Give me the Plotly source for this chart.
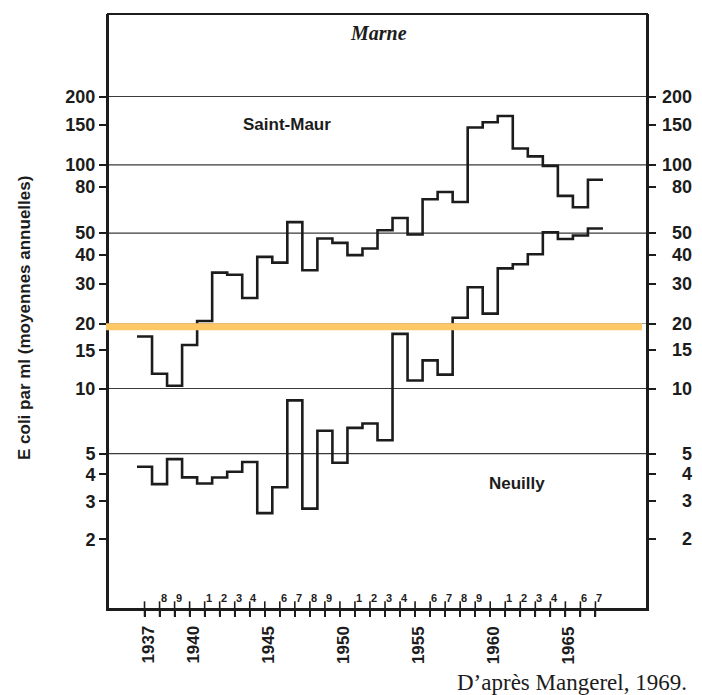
import math
import plotly.graph_objects as go

# ---------------- data ----------------
years = list(range(1937, 1968))
saint_maur = [17.4, 11.7, 10.3, 15.9, 20.5, 33.5, 32.8, 25.9, 39.3, 37.1,
              55.9, 34.3, 47.4, 45.3, 40.0, 42.8, 51.5, 58.3, 49.3, 70.5,
              75.9, 68.6, 146, 154, 164, 118, 109, 99, 73, 65, 86]
neuilly = [4.34, 3.61, 4.71, 3.88, 3.63, 3.87, 4.12, 4.57, 2.65, 3.49,
           8.81, 2.78, 6.38, 4.53, 6.57, 6.89, 5.76, 17.9, 10.9, 13.5,
           11.6, 21.2, 28.9, 22.1, 35.0, 36.5, 40.4, 50.5, 47.1, 48.8, 52.4]

upper_ticks = [200, 150, 100, 80, 50, 40, 30, 20]
lower_ticks = [15, 10, 5, 4, 3, 2]
upper_grid = [200, 100, 50, 20]
lower_grid = [10, 5]
major_years = [1937, 1940, 1945, 1950, 1955, 1960, 1965]
minor_years = [1938, 1939, 1941, 1942, 1943, 1944, 1946, 1947, 1948, 1949,
               1951, 1952, 1953, 1954, 1956, 1957, 1958, 1959,
               1961, 1962, 1963, 1964, 1966, 1967]
minor_labels = ["8", "9", "1", "2", "3", "4", "6", "7", "8", "9",
                "1", "2", "3", "4", "6", "7", "8", "9",
                "1", "2", "3", "4", "6", "7"]

# ---------------- geometry helpers ----------------
W_FIG, H_FIG = 702, 695
OFF = 8  # page body margin
L, R, T, B = 108, 647, 14, 609      # target screen pixels of the plot frame
PW, PH = R - L, B - T


def px(xp):
    return (xp - L) / PW


def py(yp):
    return (B - yp) / PH


split = py(323.5)
X_RANGE = [1934.57, 1970.43]
UP_RANGE = [math.log10(20), 2.6645]
LO_RANGE = [-0.0208, math.log10(20)]

INK = "#1c1c1c"
SANS = "Liberation Sans, Arial, sans-serif"
SERIF = "Liberation Serif, Times New Roman, serif"

# step coordinates (each year spans year-0.5 .. year+0.5)
xs = [y - 0.5 for y in years] + [years[-1] + 0.5]
sm = saint_maur + [saint_maur[-1]]
ne = neuilly + [neuilly[-1]]

fig = go.Figure()

# gridlines
for v in upper_grid:
    fig.add_trace(go.Scatter(x=X_RANGE, y=[v, v], mode="lines", xaxis="x", yaxis="y",
                             line=dict(color="#3a3a3a", width=1.2), hoverinfo="skip",
                             showlegend=False))
for v in lower_grid:
    fig.add_trace(go.Scatter(x=X_RANGE, y=[v, v], mode="lines", xaxis="x", yaxis="y2",
                             line=dict(color="#3a3a3a", width=1.2), hoverinfo="skip",
                             showlegend=False))

# series drawn in both panels (each clipped to its own panel)
for series in (sm, ne):
    for ya in ("y", "y2"):
        fig.add_trace(go.Scatter(x=xs, y=series, mode="lines", xaxis="x", yaxis=ya,
                                 line=dict(color=INK, width=2.6, shape="hv"),
                                 hoverinfo="skip", showlegend=False))

# crossing tick marks on the year axis (inner half; outer half from the axis ticks)
fig.add_trace(go.Scatter(x=years, y=[10 ** LO_RANGE[0]] * len(years), mode="markers",
                         xaxis="x", yaxis="y2", cliponaxis=False,
                         marker=dict(symbol="line-ns-open", size=11, color=INK,
                                     line=dict(color=INK, width=1.6)),
                         hoverinfo="skip", showlegend=False))

tickfont = dict(family=SANS, size=18, color=INK, weight="bold")
common_y = dict(type="log", showgrid=False, zeroline=False, ticks="outside",
                ticklen=7, tickwidth=1.5, tickcolor=INK, showline=True,
                linecolor=INK, linewidth=2, mirror="ticks", tickfont=tickfont)

annotations = []
# right-side labels (right aligned)
for v in upper_ticks:
    annotations.append(dict(x=1, xref="paper", xshift=47, xanchor="right",
                            y=math.log10(v), yref="y", yanchor="middle", text=str(v),
                            showarrow=False, font=tickfont))
for v in lower_ticks:
    annotations.append(dict(x=1, xref="paper", xshift=47, xanchor="right",
                            y=math.log10(v), yref="y2", yanchor="middle", text=str(v),
                            showarrow=False, font=tickfont))
# year labels under the axis
for yv in major_years:
    annotations.append(dict(x=yv, xref="x", xshift=3, y=0, yref="paper", yshift=-15,
                            yanchor="top", xanchor="center", textangle=-90,
                            text=str(yv), showarrow=False,
                            font=dict(family=SANS, size=17, color=INK, weight="bold")))
# small digit labels above the axis
for yv, lab in zip(minor_years, minor_labels):
    annotations.append(dict(x=yv, xref="x", xshift=4, y=0, yref="paper", yshift=3,
                            yanchor="bottom", xanchor="center", text=lab,
                            showarrow=False,
                            font=dict(family=SANS, size=11, color=INK, weight="bold")))
# titles / captions
annotations += [
    dict(x=px(24), y=py(318), xref="paper", yref="paper", textangle=-90,
         xanchor="center", yanchor="middle",
         text="E coli par ml (moyennes annuelles)", showarrow=False,
         font=dict(family=SANS, size=17, color=INK, weight="bold")),
    dict(x=px(378), y=py(33), xref="paper", yref="paper", text="<b><i>Marne</i></b>",
         xanchor="center", yanchor="middle",
         showarrow=False, font=dict(family=SERIF, size=20, color=INK)),
    dict(x=px(287), y=py(124), xref="paper", yref="paper", text="Saint-Maur",
         xanchor="center", yanchor="middle",
         showarrow=False, font=dict(family=SANS, size=17, color=INK, weight="bold")),
    dict(x=px(517), y=py(483), xref="paper", yref="paper", text="Neuilly",
         xanchor="center", yanchor="middle",
         showarrow=False, font=dict(family=SANS, size=17, color=INK, weight="bold")),
    dict(x=px(572), y=py(682), xref="paper", yref="paper", text="D\u2019après Mangerel, 1969.",
         xanchor="center", yanchor="middle",
         showarrow=False, font=dict(family=SERIF, size=23, color=INK)),
]

shapes = [
    dict(type="rect", xref="paper", yref="paper", x0=0, x1=1, y0=0, y1=1,
         line=dict(color=INK, width=2), layer="above"),
    dict(type="line", xref="paper", yref="paper", x0=px(106), x1=px(642),
         y0=py(326.7), y1=py(326.7), line=dict(color="#FDC865", width=7),
         layer="above"),
]

fig.update_layout(
    width=W_FIG, height=H_FIG, autosize=False,
    margin=dict(l=L - OFF, r=W_FIG - (R - OFF), t=T - OFF, b=H_FIG - (B - OFF), pad=0),
    paper_bgcolor="white", plot_bgcolor="white",
    showlegend=False,
    xaxis=dict(range=X_RANGE, anchor="y2", showgrid=False, zeroline=False,
               showticklabels=False, tickmode="array", tickvals=years,
               ticks="outside", ticklen=6, tickwidth=1.6, tickcolor=INK,
               showline=True, linecolor=INK, linewidth=2),
    yaxis=dict(domain=[split, 1], range=UP_RANGE, anchor="x",
               tickvals=upper_ticks, ticktext=[str(v) for v in upper_ticks], **common_y),
    yaxis2=dict(domain=[0, split], range=LO_RANGE, anchor="x",
                tickvals=lower_ticks, ticktext=[str(v) for v in lower_ticks], **common_y),
    annotations=annotations,
    shapes=shapes,
)

fig.write_html("out.html")
